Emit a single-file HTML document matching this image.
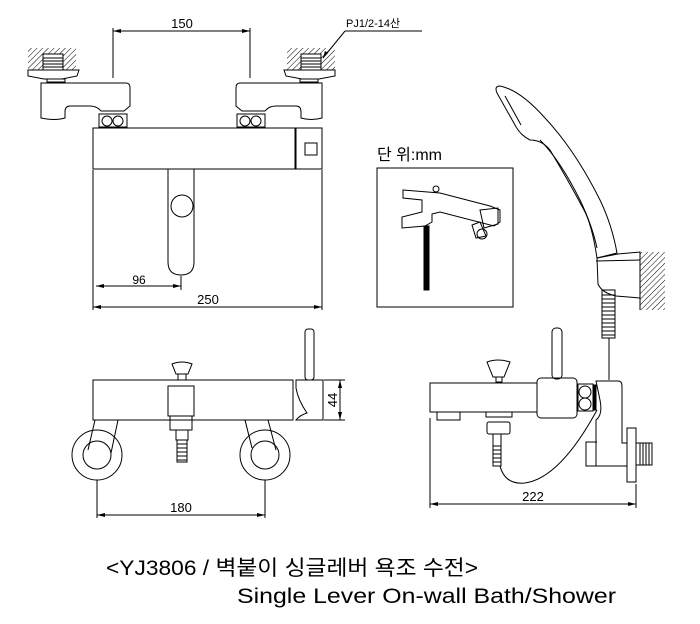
<!DOCTYPE html>
<html><head><meta charset="utf-8"><style>
html,body{margin:0;padding:0;background:#fff;width:700px;height:624px;overflow:hidden}
svg{display:block}
text{font-family:"Liberation Sans","Noto Sans CJK KR",sans-serif;fill:#000}
</style></head><body>
<svg width="700" height="624" viewBox="0 0 700 624" xmlns="http://www.w3.org/2000/svg">
<defs>
<pattern id="h" width="4" height="4" patternUnits="userSpaceOnUse" patternTransform="rotate(45)">
<line x1="0" y1="0" x2="0" y2="4" stroke="#000" stroke-width="1"/></pattern>
</defs>
<g fill="none" stroke="#000" stroke-width="1">
<!-- TOP VIEW -->
<line x1="113" y1="28" x2="113" y2="78"/><line x1="250" y1="28" x2="250" y2="78"/>
<line x1="113" y1="31" x2="250" y2="31"/>
<rect x="28" y="48" width="48" height="22" fill="url(#h)" stroke="none"/>
<rect x="43" y="54" width="20" height="16" fill="#fff"/>
<line x1="43" y1="58" x2="63" y2="58"/><line x1="43" y1="61" x2="63" y2="61"/><line x1="43" y1="64" x2="63" y2="64"/><line x1="43" y1="67" x2="63" y2="67"/>
<path d="M28 70 H79 L77 76 L62 79 H44 L28 76 Z"/>
<rect x="47" y="79" width="18" height="3"/>
<path d="M41 83 H126 Q130 83 130 88 V106 L124 111 H101 Q97 106 90 106 H70 Q65 106 65 112 V118 Q55 121 41 118 Z"/>
<rect x="99" y="114" width="28" height="13"/>
<circle cx="107" cy="121" r="5"/><circle cx="118" cy="121" r="5"/>
<rect x="287" y="48" width="48" height="22" fill="url(#h)" stroke="none"/>
<rect x="301" y="54" width="20" height="16" fill="#fff"/>
<line x1="301" y1="58" x2="321" y2="58"/><line x1="301" y1="61" x2="321" y2="61"/><line x1="301" y1="64" x2="321" y2="64"/><line x1="301" y1="67" x2="321" y2="67"/>
<path d="M284 70 H335 V76 L319 79 H302 L286 76 Z"/>
<rect x="300" y="79" width="18" height="3"/>
<path d="M322 83 H240 Q236 83 236 88 V106 L242 111 H265 Q269 106 276 106 H296 Q301 106 301 112 V118 Q311 121 322 118 Z"/>
<rect x="237" y="114" width="28" height="13"/>
<circle cx="245" cy="121" r="5"/><circle cx="256" cy="121" r="5"/>
<line x1="345" y1="31" x2="422" y2="31"/><line x1="345" y1="31" x2="323" y2="58"/>
<rect x="93" y="128" width="202" height="41"/>
<rect x="296" y="128" width="26" height="41"/>
<rect x="305" y="143" width="12" height="12"/>
<path d="M168 169 V262 Q168 275 181 275 Q194 275 194 262 V169"/>
<circle cx="182" cy="206" r="11"/>
<line x1="93" y1="170" x2="93" y2="310"/><line x1="322" y1="170" x2="322" y2="310"/>
<line x1="181" y1="276" x2="181" y2="290"/>
<line x1="96" y1="286" x2="181" y2="286"/>
<line x1="93" y1="307" x2="322" y2="307"/>
<!-- INSET -->
<rect x="377" y="168" width="136" height="139"/>
<path d="M403 190 L440 193 L490 206 L500 210 V222 L494 226 L440 212 L432 214 V222 L425 226 L402 228 V217 L422 212 V200 L403 198 Z"/>
<path d="M480 210 L498 208 V224 L484 228 Z M472 225 L480 222 L486 236 L476 238 Z"/>
<circle cx="482" cy="234" r="5"/>
<circle cx="436" cy="189" r="3"/>
<rect x="424" y="226" width="5" height="64" fill="#000"/>
<!-- SHOWER -->
<path d="M497 93 Q494 86 500 86 Q520 90 545 118 Q575 150 600 200 Q612 225 617 253 L597 258 Q592 225 584 210 Q568 180 550 150 Q542 140 530 140 Q520 135 515 125 Z"/>
<path d="M505 96 L521 125 M540 140 Q560 160 580 200 Q592 225 597 248"/>
<path d="M597 258 L618 254 L640 252 V298 L616 296 Q602 293 598 284 Z"/>
<line x1="596" y1="261" x2="640" y2="260"/>
<rect x="640" y="252" width="25" height="58" fill="url(#h)" stroke="none"/>
<line x1="640" y1="252" x2="640" y2="310"/>
<rect x="602" y="290" width="13" height="48"/>
<path d="M602 295 H615 M602 299 H615 M602 303 H615 M602 307 H615 M602 311 H615 M602 315 H615 M602 319 H615 M602 323 H615 M602 327 H615 M602 331 H615 M602 335 H615"/>
<line x1="609" y1="338" x2="609" y2="380"/>
<!-- BOTTOM LEFT VIEW -->
<rect x="93" y="380" width="200" height="40"/>
<path d="M296 380 H323 V420 H296 Q300 415 307 413 Q298 400 296 388 Z"/>
<rect x="305" y="329" width="9" height="51" rx="3"/>
<path d="M172 364 Q182 360 192 364 L188 374 H176 Z"/><rect x="178" y="374" width="8" height="6"/>
<rect x="168" y="386" width="26" height="30"/>
<rect x="170" y="416" width="22" height="14"/>
<rect x="176" y="430" width="12" height="10"/>
<rect x="177" y="440" width="10" height="22"/>
<path d="M177 444 H187 M177 448 H187 M177 452 H187 M177 456 H187 M177 460 H187"/>
<circle cx="97" cy="455" r="25"/><circle cx="97" cy="455" r="14"/>
<line x1="95" y1="420" x2="88" y2="450"/><line x1="118" y1="420" x2="111" y2="453"/>
<circle cx="265" cy="455" r="25"/><circle cx="265" cy="455" r="14"/>
<line x1="245" y1="420" x2="252" y2="448"/><line x1="268" y1="420" x2="276" y2="450"/>
<line x1="97" y1="480" x2="97" y2="518"/><line x1="265" y1="480" x2="265" y2="518"/>
<line x1="97" y1="515" x2="265" y2="515"/>
<line x1="324" y1="380" x2="345" y2="380"/><line x1="324" y1="420" x2="345" y2="420"/>
<line x1="340" y1="380" x2="340" y2="420"/>
<!-- BOTTOM RIGHT VIEW -->
<rect x="430" y="383" width="107" height="29"/>
<rect x="437" y="412" width="23" height="8"/>
<path d="M487 362 Q498 358 510 362 L504 377 H493 Z"/><rect x="496" y="377" width="6" height="5"/>
<rect x="486" y="412" width="26" height="5"/>
<rect x="487" y="422" width="23" height="12" rx="2"/>
<rect x="493" y="434" width="8" height="12"/>
<rect x="493" y="446" width="8" height="20"/>
<path d="M493 450 H501 M493 454 H501 M493 458 H501 M493 462 H501"/>
<path d="M500 466 Q505 485 525 483 Q560 478 597 410"/>
<rect x="552" y="328" width="10" height="51" rx="4"/>
<rect x="537" y="378" width="40" height="40" rx="4"/>
<rect x="578" y="384" width="15" height="27"/>
<ellipse cx="585" cy="392" rx="6" ry="6"/><ellipse cx="585" cy="404" rx="6" ry="6"/>
<rect x="593" y="385" width="3" height="25" fill="#000"/>
<path d="M596 381 H618 Q622 381 622 386 V443 H627 V466 H596 V420 Q603 415 600 400 Z"/>
<path d="M597 442 H586 V466 H597"/>
<rect x="627" y="428" width="9" height="54"/>
<rect x="636" y="443" width="16" height="22"/>
<path d="M640 443 V465 M643 443 V465 M646 443 V465 M649 443 V465"/>
<line x1="430" y1="418" x2="430" y2="508"/><line x1="636" y1="484" x2="636" y2="508"/>
<line x1="430" y1="504" x2="636" y2="504"/>
</g>
<g fill="#000">
<path d="M113 31 l8 -2 v4 z M250 31 l-8 -2 v4 z"/>
<path d="M96 286 l8 -2 v4 z M181 286 l-8 -2 v4 z"/>
<path d="M93 307 l8 -2 v4 z M322 307 l-8 -2 v4 z"/>
<path d="M97 515 l8 -2 v4 z M265 515 l-8 -2 v4 z"/>
<path d="M340 380 l-2 8 h4 z M340 420 l-2 -8 h4 z"/>
<path d="M430 504 l8 -2 v4 z M636 504 l-8 -2 v4 z"/>
<path d="M323 58 l2 -7 l3 2 z"/>
</g>
<text x="182" y="28" font-size="13" text-anchor="middle">150</text>
<text x="346" y="27" font-size="11">PJ1/2-14산</text>
<text x="139" y="284" font-size="12" text-anchor="middle">96</text>
<text x="208" y="304" font-size="13" text-anchor="middle">250</text>
<text x="181" y="512" font-size="13" text-anchor="middle">180</text>
<text x="533" y="501" font-size="13" text-anchor="middle">222</text>
<text transform="translate(337 400) rotate(-90)" font-size="13" text-anchor="middle">44</text>
<text x="377" y="160" font-size="16">단 위:mm</text>
<text x="106" y="575" font-size="21" textLength="372" lengthAdjust="spacingAndGlyphs">&lt;YJ3806 / 벽붙이 싱글레버 욕조 수전&gt;</text>
<text x="237" y="603" font-size="21" textLength="379" lengthAdjust="spacingAndGlyphs">Single Lever On-wall Bath/Shower</text>
</svg>
</body></html>
